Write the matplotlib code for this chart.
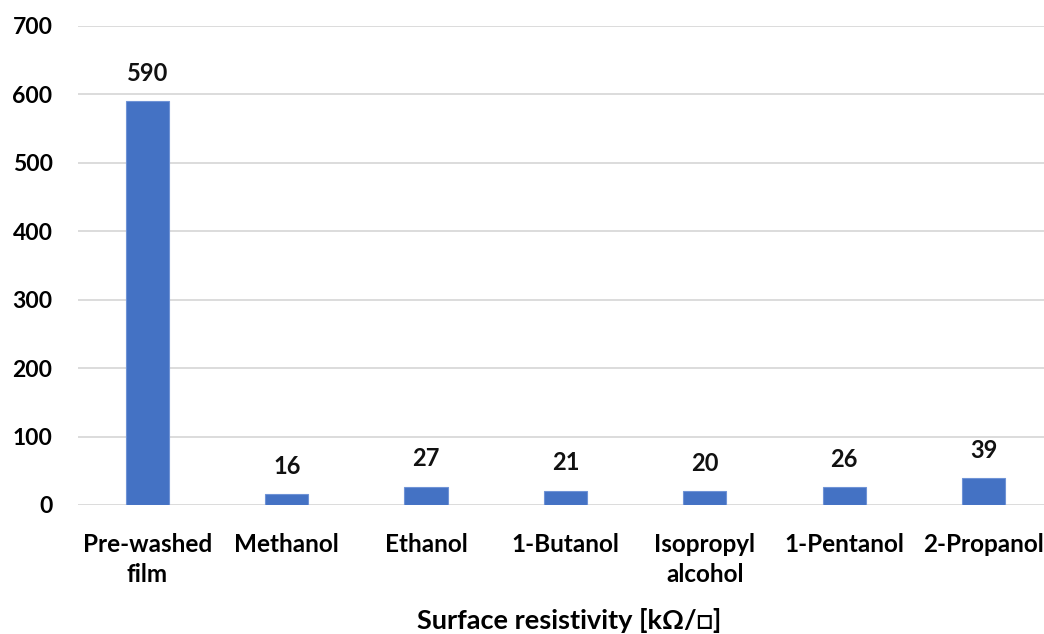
import matplotlib
matplotlib.use("Agg")
import matplotlib.pyplot as plt

categories = ["Pre-washed\nfilm", "Methanol", "Ethanol", "1-Butanol",
              "Isopropyl\nalcohol", "1-Pentanol", "2-Propanol"]
values = [590, 16, 27, 21, 20, 26, 39]
yticks = [0, 100, 200, 300, 400, 500, 600, 700]
xlabel = "Surface resistivity [kΩ/□]"

plt.rcParams['font.family'] = ['Lato', 'DejaVu Sans']

fig = plt.figure(figsize=(10.44, 6.34), dpi=100)
ax = fig.add_axes([0.0743, 0.2035, 0.9347, 0.7555])

x = list(range(len(categories)))
ax.bar(x, values, width=0.31, color="#4472C4", edgecolor="#6F93D6",
       linewidth=0.8, zorder=3)
for xi, v in zip(x, values):
    ax.annotate(f"{v}", (xi, v), xytext=(0, 20), textcoords="offset points",
                ha="center", va="center", fontsize=17, fontweight="bold",
                color="#111111")

ax.set_xlim(-0.5, len(categories) - 0.5)
ax.set_ylim(0, 700)
ax.set_yticks(yticks)
ax.set_yticklabels([str(t) for t in yticks], fontsize=16.5, fontweight="bold")
ax.set_xticks(x)
ax.set_xticklabels(categories, fontsize=17.5, fontweight="bold",
                   linespacing=1.4)
ax.grid(axis="y", color="#D9D9D9", linewidth=1.3, zorder=0)
for s in ax.spines.values():
    s.set_visible(False)
ax.tick_params(axis="x", length=0, pad=20)
ax.tick_params(axis="y", length=0, pad=18)
ax.set_xlabel(xlabel, fontsize=19.5, fontweight="bold")
ax.xaxis.set_label_coords(0.5035, -0.215)

fig.savefig("out.png", dpi=100)
